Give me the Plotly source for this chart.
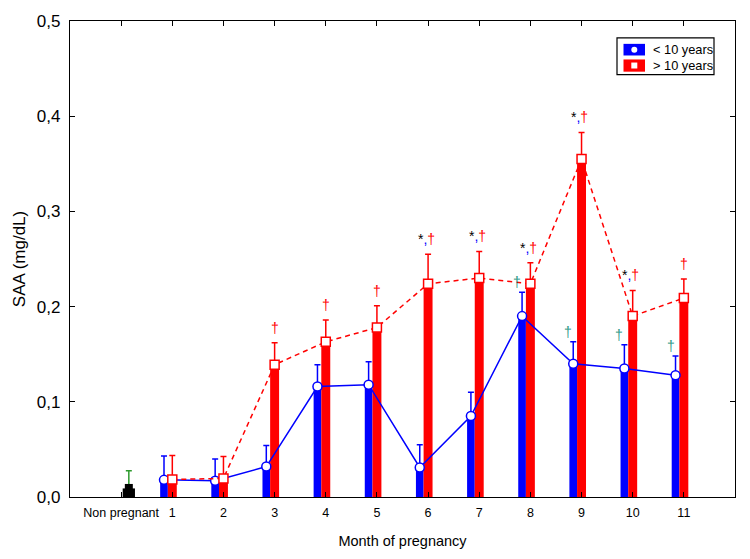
import plotly.graph_objects as go

# ---------------- data ----------------
categories = ["Non pregnant", "1", "2", "3", "4", "5", "6", "7", "8", "9", "10", "11"]
months = [1, 2, 3, 4, 5, 6, 7, 8, 9, 10, 11]

blue_mean = [0.018, 0.017, 0.032, 0.116, 0.118, 0.031, 0.085, 0.190, 0.140, 0.135, 0.128]
blue_err_top = [0.043, 0.040, 0.054, 0.139, 0.142, 0.055, 0.110, 0.215, 0.163, 0.160, 0.148]
red_mean = [0.0185, 0.0195, 0.139, 0.163, 0.178, 0.224, 0.230, 0.224, 0.355, 0.190, 0.209]
red_err_top = [0.0435, 0.0425, 0.162, 0.186, 0.201, 0.255, 0.258, 0.246, 0.383, 0.217, 0.229]

nonpreg_mean = [0.009]
nonpreg_err_top = [0.0275]

red_dagger_months = [3, 4, 5, 11]
star_dagger_months = [6, 7, 8, 9, 10]
teal_dagger_months = [8, 9, 10, 11]

# ---------------- styling ----------------
FONT = "Arial, Liberation Sans, sans-serif"
BLUE = "#0000ff"
RED = "#ff0000"
TEAL = "#2f9a88"
GREEN = "#2e9a2e"

W, H = 750, 559
ML, MR, MT, MB = 70, 15, 18, 62
PW, PH = W - ML - MR, H - MT - MB

RED_W = 0.175
BLUE_W = 0.15
RED_OFF = -RED_W / 2
BLUE_OFF = RED_OFF - BLUE_W
BLUE_SHIFT = BLUE_OFF + BLUE_W / 2
NP_SHIFT = 0.15
NP_W = 0.24

blue_err = [t - m for t, m in zip(blue_err_top, blue_mean)]
red_err = [t - m for t, m in zip(red_err_top, red_mean)]
np_err = [t - m for t, m in zip(nonpreg_err_top, nonpreg_mean)]

fig = go.Figure()

# non pregnant
fig.add_trace(go.Bar(
    x=[0], y=nonpreg_mean, width=NP_W, offset=NP_SHIFT - NP_W / 2,
    marker=dict(color="black", line=dict(width=0)),
    error_y=dict(type="data", array=np_err, arrayminus=[0], symmetric=False,
                 color=GREEN, thickness=1.5, width=3),
    showlegend=False, hoverinfo="skip"))
fig.add_trace(go.Scatter(
    x=[0 + NP_SHIFT], y=[nonpreg_mean[0] + 0.0005], mode="markers",
    marker=dict(symbol="square", size=8, color="black"),
    showlegend=False, hoverinfo="skip"))

# bars
fig.add_trace(go.Bar(
    x=months, y=blue_mean, width=BLUE_W, offset=BLUE_OFF,
    marker=dict(color=BLUE, line=dict(width=0)),
    error_y=dict(type="data", array=blue_err, arrayminus=[0] * len(months), symmetric=False,
                 color=BLUE, thickness=1.5, width=3),
    name="< 10 years", showlegend=False))
fig.add_trace(go.Bar(
    x=months, y=red_mean, width=RED_W, offset=RED_OFF,
    marker=dict(color=RED, line=dict(width=0)),
    error_y=dict(type="data", array=red_err, arrayminus=[0] * len(months), symmetric=False,
                 color=RED, thickness=1.5, width=3),
    name="> 10 years", showlegend=False))

# lines + markers
fig.add_trace(go.Scatter(
    x=[m + BLUE_SHIFT for m in months], y=blue_mean, mode="lines+markers",
    line=dict(color=BLUE, width=1.5),
    marker=dict(symbol="circle", size=9, color="white", line=dict(color=BLUE, width=1.5)),
    showlegend=False))
fig.add_trace(go.Scatter(
    x=months, y=red_mean, mode="lines+markers",
    line=dict(color=RED, width=1.5, dash="5px,4px"),
    marker=dict(symbol="square", size=9, color="white", line=dict(color=RED, width=1.5)),
    showlegend=False))

annotations = []
red_top = dict(zip(months, red_err_top))
blue_top = dict(zip(months, blue_err_top))
for m in red_dagger_months:
    annotations.append(dict(x=m, y=red_top[m], xref="x", yref="y", text="†",
                            showarrow=False, yshift=15, yanchor="middle",
                            font=dict(family=FONT, size=14, color=RED)))
for m in star_dagger_months:
    annotations.append(dict(
        x=m, y=red_top[m], xref="x", yref="y", xshift=-2,
        text="<span style='color:black'>*</span><span style='color:#0000ff'>,</span><span style='color:#ff0000'>†</span>",
        showarrow=False, yshift=15, yanchor="middle",
        font=dict(family=FONT, size=14, color=RED)))
for m in teal_dagger_months:
    annotations.append(dict(x=m + BLUE_SHIFT, y=blue_top[m], xref="x", yref="y", text="†",
                            showarrow=False, yshift=10, xshift=-5, yanchor="middle",
                            font=dict(family=FONT, size=14, color=TEAL)))

# manual legend (pixel helpers)
def px(xp):
    return (xp - ML) / PW

def py(yp):
    return (H - MB - yp) / PH

shapes = [
    dict(type="rect", xref="paper", yref="paper", x0=px(617), x1=px(714), y0=py(72), y1=py(35),
         line=dict(color="black", width=1.2), fillcolor="white", layer="above"),
    dict(type="rect", xref="paper", yref="paper", x0=px(623.5), x1=px(645), y0=py(52.7), y1=py(41),
         line=dict(width=0), fillcolor=BLUE, layer="above"),
    dict(type="rect", xref="paper", yref="paper", x0=px(623.5), x1=px(645), y0=py(69), y1=py(56.7),
         line=dict(width=0), fillcolor=RED, layer="above"),
    dict(type="circle", xref="paper", yref="paper", x0=px(631.3), x1=px(637.3), y0=py(49.9), y1=py(43.9),
         line=dict(width=0), fillcolor="white", layer="above"),
    dict(type="rect", xref="paper", yref="paper", x0=px(631.3), x1=px(637.3), y0=py(65.8), y1=py(59.8),
         line=dict(width=0), fillcolor="white", layer="above"),
]
annotations += [
    dict(x=px(650.5), y=py(46.8), xref="paper", yref="paper", text="< 10 years", showarrow=False,
         xanchor="left", yanchor="middle", font=dict(family=FONT, size=12.8, color="black")),
    dict(x=px(650.5), y=py(62.8), xref="paper", yref="paper", text="> 10 years", showarrow=False,
         xanchor="left", yanchor="middle", font=dict(family=FONT, size=12.8, color="black")),
]

fig.update_layout(
    width=W, height=H,
    margin=dict(l=ML, r=MR, t=MT, b=MB, pad=0),
    plot_bgcolor="white", paper_bgcolor="white",
    barmode="overlay",
    separators=",.",
    font=dict(family=FONT, color="black"),
    shapes=shapes,
    annotations=annotations,
    showlegend=False,
    xaxis=dict(
        range=[-1, 12], tickmode="array", tickvals=list(range(len(categories))), ticktext=categories,
        showline=True, linecolor="black", linewidth=1.2, mirror="ticks",
        ticks="inside", ticklen=5, tickcolor="black", tickwidth=1,
        showgrid=False, zeroline=False, ticklabelstandoff=4,
        tickfont=dict(family=FONT, size=12.5, color="black"),
        title=dict(text="Month of pregnancy", font=dict(family=FONT, size=14.5, color="black"), standoff=16),
    ),
    yaxis=dict(
        range=[0, 0.5], tickmode="array", tickvals=[0, 0.1, 0.2, 0.3, 0.4, 0.5], tickformat=".1f",
        showline=True, linecolor="black", linewidth=1.2, mirror="ticks",
        ticks="inside", ticklen=5, tickcolor="black", tickwidth=1,
        showgrid=False, zeroline=False, ticklabelstandoff=5,
        tickfont=dict(family=FONT, size=17, color="black"),
        title=dict(text="SAA (mg/dL)", font=dict(family=FONT, size=17, color="black"), standoff=6),
    ),
)

fig.write_html("out.html")
